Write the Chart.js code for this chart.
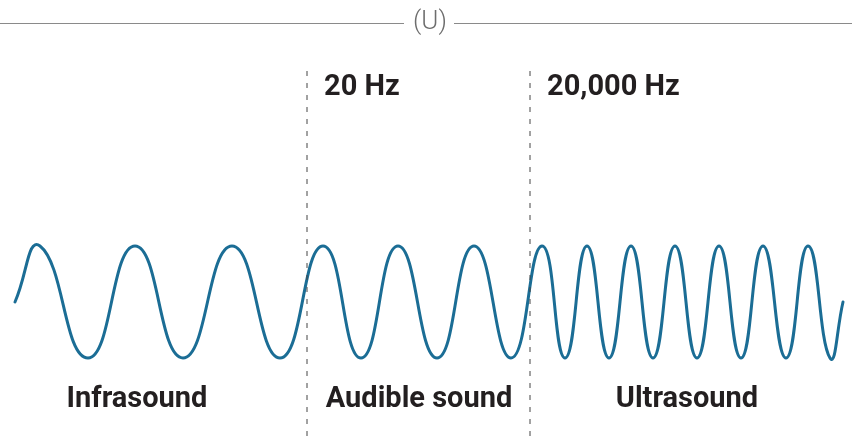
<!DOCTYPE html>
<html>
<head>
<meta charset="utf-8">
<script src="https://cdn.jsdelivr.net/npm/chart.js@4.4.1/dist/chart.umd.min.js"></script>
<style>
  html, body { margin: 0; padding: 0; background: #fff; }
  #wrap { width: 852px; height: 436px; position: relative; }
</style>
</head>
<body>
<div id="wrap"><canvas id="chart"></canvas></div>
<script>
// wave: position along the strip and displacement (+1 crest, -1 trough)
const wavePos = [
  15, 40, 88, 135, 183, 232, 280,
  323, 361, 398, 437, 474, 511,
  542, 565, 587, 609, 631, 653, 675, 697, 719, 741, 763, 786, 808, 830, 843,
];
const waveAmp = [
  0, 1, -1, 1, -1, 1, -1,
  1, -1, 1, -1, 1, -1,
  1, -1, 1, -1, 1, -1, 1, -1, 1, -1, 1, -1, 1, -1, 0,
];
const boundaryPos = [307, 530];
const boundaryLabels = ['20 Hz', '20,000 Hz'];
const bandLabels = ['Infrasound', 'Audible sound', 'Ultrasound'];
const headerText = '(U)';

// layout
const X_MIN = 0, X_MAX = 852;
const Y_MIN = -2.393, Y_MAX = 5.393;
const DASH_TOP = 4.25;
const bandLabelPos = [137, 419, 687];
const bandLabelY = -1.75;
const boundaryLabelY = 3.82;

const wavePoints = wavePos.map((x, i) => ({ x, y: waveAmp[i] }));

const overlay = {
  id: 'overlay',
  afterDatasetsDraw(chart) {
    const { ctx, scales: { x, y } } = chart;
    ctx.save();
    // header rule with (U)
    ctx.font = '300 26px Roboto';
    ctx.fillStyle = '#6d6d6d';
    ctx.textAlign = 'center';
    ctx.textBaseline = 'middle';
    const cx = 430, hy = 22;
    ctx.fillText(headerText, cx, hy);
    ctx.strokeStyle = '#8a8a8a';
    ctx.lineWidth = 1;
    ctx.beginPath();
    ctx.moveTo(0, hy + 1.5); ctx.lineTo(404, hy + 1.5);
    ctx.moveTo(454, hy + 1.5); ctx.lineTo(chart.width, hy + 1.5);
    ctx.stroke();

    ctx.fillStyle = '#231f20';
    ctx.font = 'bold 29px Roboto';
    ctx.textAlign = 'left';
    boundaryLabels.forEach((t, i) => {
      ctx.fillText(t, x.getPixelForValue(boundaryPos[i]) + 17, y.getPixelForValue(boundaryLabelY));
    });
    ctx.textAlign = 'center';
    bandLabels.forEach((t, i) => {
      ctx.fillText(t, x.getPixelForValue(bandLabelPos[i]), y.getPixelForValue(bandLabelY));
    });
    ctx.restore();
  },
};

const boundarySets = boundaryPos.map((p) => ({
  data: [{ x: p, y: Y_MIN }, { x: p, y: DASH_TOP }],
  borderColor: '#444',
  borderWidth: 1,
  borderDash: [5, 7],
  pointRadius: 0,
  tension: 0,
}));

new Chart(document.getElementById('chart'), {
  type: 'line',
  data: {
    datasets: [
      ...boundarySets,
      {
        data: wavePoints,
        borderColor: '#1b6d95',
        borderWidth: 3,
        pointRadius: 0,
        tension: 0.5,
        borderCapStyle: 'round',
      },
    ],
  },
  options: {
    responsive: true,
    maintainAspectRatio: false,
    animation: false,
    layout: { padding: 0 },
    plugins: { legend: { display: false }, tooltip: { enabled: false } },
    scales: {
      x: { type: 'linear', min: X_MIN, max: X_MAX, display: false },
      y: { type: 'linear', min: Y_MIN, max: Y_MAX, display: false },
    },
  },
  plugins: [overlay],
});
</script>
</body>
</html>
